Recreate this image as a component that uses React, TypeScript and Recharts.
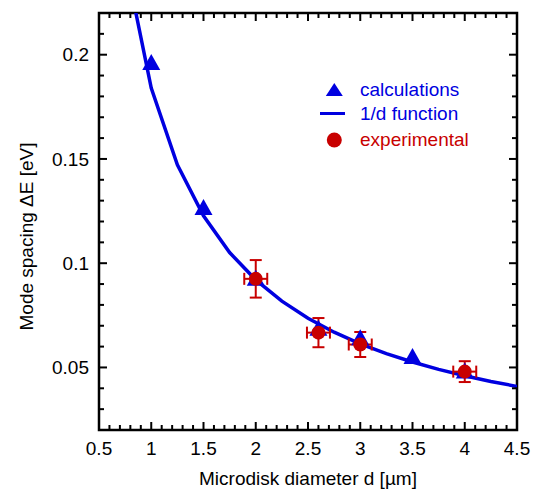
import React from 'react';
import { ComposedChart, Line, Scatter, XAxis, YAxis, ErrorBar, ReferenceArea } from 'recharts';

// 1/d function (piecewise sampled curve)
const fitD = [0.75, 1, 1.25, 1.5, 1.75, 2, 2.25, 2.5, 2.75, 3, 3.25, 3.5, 3.75, 4, 4.25, 4.5];
const fitE = [0.2453, 0.184, 0.1472, 0.1227, 0.1051, 0.092, 0.0818, 0.0736, 0.0669, 0.0613, 0.0566, 0.0526, 0.0491, 0.046, 0.0433, 0.0409];

// calculations (triangles)
const calcD = [1, 1.5, 2, 2.6, 3, 3.5, 4];
const calcE = [0.1965, 0.127, 0.093, 0.069, 0.0645, 0.0555, 0.0485];

// experimental (circles with error bars)
const expD = [2, 2.6, 3, 4];
const expE = [0.0925, 0.0667, 0.061, 0.048];
const expErrD = [0.11, 0.11, 0.11, 0.11];
const expErrE = [0.009, 0.007, 0.006, 0.005];

const xTicks = [0.5, 0.6, 0.7, 0.8, 0.9, 1, 1.1, 1.2, 1.3, 1.4, 1.5, 1.6, 1.7, 1.8, 1.9, 2, 2.1, 2.2, 2.3, 2.4, 2.5, 2.6, 2.7, 2.8, 2.9, 3, 3.1, 3.2, 3.3, 3.4, 3.5, 3.6, 3.7, 3.8, 3.9, 4, 4.1, 4.2, 4.3, 4.4, 4.5];
const xMajor = [0.5, 1, 1.5, 2, 2.5, 3, 3.5, 4, 4.5];
const yTicks = [0.02, 0.03, 0.04, 0.05, 0.06, 0.07, 0.08, 0.09, 0.1, 0.11, 0.12, 0.13, 0.14, 0.15, 0.16, 0.17, 0.18, 0.19, 0.2, 0.21, 0.22];
const yMajor = [0.05, 0.1, 0.15, 0.2];

const fitData = fitD.map((x, i) => ({ x, y: fitE[i] }));
const calcData = calcD.map((x, i) => ({ x, y: calcE[i] }));
const expData = expD.map((x, i) => ({ x, y: expE[i], ex: expErrD[i], ey: expErrE[i] }));

const FONT = '"Liberation Sans", Arial, sans-serif';
const BLUE = '#0000e0';
const RED = '#c80000';
const FS = 19;
const TW = 2;

const isMajor = (list: number[], v: number) => list.some((m) => Math.abs(m - v) < 1e-9);

const BottomTick = (props: any) => {
  const { x, y, payload } = props;
  const major = isMajor(xMajor, payload.value);
  return (
    <g>
      <line x1={x} y1={y} x2={x} y2={y - (major ? 8 : 5)} stroke="#000" strokeWidth={TW} />
      {major && (
        <text x={x} y={y + 25} textAnchor="middle" fontSize={FS} fontFamily={FONT} fill="#000">
          {String(payload.value)}
        </text>
      )}
    </g>
  );
};

const TopTick = (props: any) => {
  const { x, y, payload } = props;
  const major = isMajor(xMajor, payload.value);
  return <line x1={x} y1={y} x2={x} y2={y + (major ? 8 : 5)} stroke="#000" strokeWidth={TW} />;
};

const LeftTick = (props: any) => {
  const { x, y, payload } = props;
  const major = isMajor(yMajor, payload.value);
  return (
    <g>
      <line x1={x} y1={y} x2={x + (major ? 8 : 5)} y2={y} stroke="#000" strokeWidth={TW} />
      {major && (
        <text x={x - 10} y={y} dy="0.35em" textAnchor="end" fontSize={FS} fontFamily={FONT} fill="#000">
          {String(payload.value)}
        </text>
      )}
    </g>
  );
};

const RightTick = (props: any) => {
  const { x, y, payload } = props;
  const major = isMajor(yMajor, payload.value);
  return <line x1={x} y1={y} x2={x - (major ? 8 : 5)} y2={y} stroke="#000" strokeWidth={TW} />;
};

const Triangle = (props: any) => {
  const { cx, cy } = props;
  if (cx == null || cy == null) return null;
  return <polygon points={`${cx},${cy - 8} ${cx - 9},${cy + 8} ${cx + 9},${cy + 8}`} fill={BLUE} />;
};

const Dot = (props: any) => {
  const { cx, cy } = props;
  if (cx == null || cy == null) return null;
  return <circle cx={cx} cy={cy} r={7} fill={RED} />;
};

const XTitle = (props: any) => {
  const vb = props.viewBox || {};
  return (
    <text x={vb.x + vb.width / 2} y={485} textAnchor="middle" fontSize={FS} fontFamily={FONT} fill="#000">
      Microdisk diameter d [µm]
    </text>
  );
};

const YTitle = (props: any) => {
  const vb = props.viewBox || {};
  const cy = vb.y + vb.height / 2 + 15;
  return (
    <text x={33} y={cy} transform={`rotate(-90, 33, ${cy})`} textAnchor="middle" fontSize={FS} fontFamily={FONT} fill="#000">
      Mode spacing ΔE [eV]
    </text>
  );
};

export default function App() {
  return (
    <div style={{ position: 'absolute', left: 0, top: 0, width: 537, height: 490, background: '#fff' }}>
      <ComposedChart width={537} height={490} margin={{ top: 12, right: 19, bottom: 0, left: 0 }}>
        <XAxis
          xAxisId="bottom"
          dataKey="x"
          type="number"
          domain={[0.5, 4.5]}
          ticks={xTicks}
          interval={0}
          allowDataOverflow
          height={60}
          tickSize={0}
          tickMargin={0}
          tickLine={false}
          tick={<BottomTick />}
          axisLine={false}
          label={<XTitle />}
        />
        <XAxis
          xAxisId="top"
          orientation="top"
          dataKey="x"
          type="number"
          domain={[0.5, 4.5]}
          ticks={xTicks}
          interval={0}
          allowDataOverflow
          height={1}
          tickSize={0}
          tickMargin={0}
          tickLine={false}
          tick={<TopTick />}
          axisLine={false}
        />
        <YAxis
          yAxisId="left"
          type="number"
          domain={[0.02, 0.22]}
          ticks={yTicks}
          interval={0}
          allowDataOverflow
          width={99}
          tickSize={0}
          tickMargin={0}
          tickLine={false}
          tick={<LeftTick />}
          axisLine={false}
          label={<YTitle />}
        />
        <YAxis
          yAxisId="right"
          orientation="right"
          type="number"
          domain={[0.02, 0.22]}
          ticks={yTicks}
          interval={0}
          allowDataOverflow
          width={1}
          tickSize={0}
          tickMargin={0}
          tickLine={false}
          tick={<RightTick />}
          axisLine={false}
        />
        <ReferenceArea
          xAxisId="bottom"
          yAxisId="left"
          x1={0.5}
          x2={4.5}
          y1={0.02}
          y2={0.22}
          fill="none"
          fillOpacity={0}
          stroke="#000"
          strokeWidth={2.5}
          ifOverflow="visible"
        />
        <Line
          xAxisId="bottom"
          yAxisId="left"
          data={fitData}
          dataKey="y"
          type="linear"
          stroke={BLUE}
          strokeWidth={3.5}
          dot={false}
          activeDot={false}
          isAnimationActive={false}
        />
        <Scatter
          xAxisId="bottom"
          yAxisId="left"
          data={calcData}
          dataKey="y"
          shape={<Triangle />}
          isAnimationActive={false}
        />
        <Scatter
          xAxisId="bottom"
          yAxisId="left"
          data={expData}
          dataKey="y"
          shape={<Dot />}
          isAnimationActive={false}
        >
          <ErrorBar dataKey="ey" direction="y" width={6} strokeWidth={2} stroke={RED} />
          <ErrorBar dataKey="ex" direction="x" width={6} strokeWidth={2} stroke={RED} />
        </Scatter>
      </ComposedChart>
      <svg width={537} height={490} style={{ position: 'absolute', left: 0, top: 0, pointerEvents: 'none' }}>
        <polygon points="334.3,83 325.8,96 342.8,96" fill={BLUE} />
        <text x={360} y={96} fontSize={FS} fontFamily={FONT} fill={BLUE}>calculations</text>
        <line x1={320} y1={113.5} x2={345} y2={113.5} stroke={BLUE} strokeWidth={3} />
        <text x={360} y={120} fontSize={FS} fontFamily={FONT} fill={BLUE}>1/d function</text>
        <circle cx={334.3} cy={140} r={7.5} fill={RED} />
        <text x={360} y={146} fontSize={FS} fontFamily={FONT} fill={RED}>experimental</text>
      </svg>
    </div>
  );
}
